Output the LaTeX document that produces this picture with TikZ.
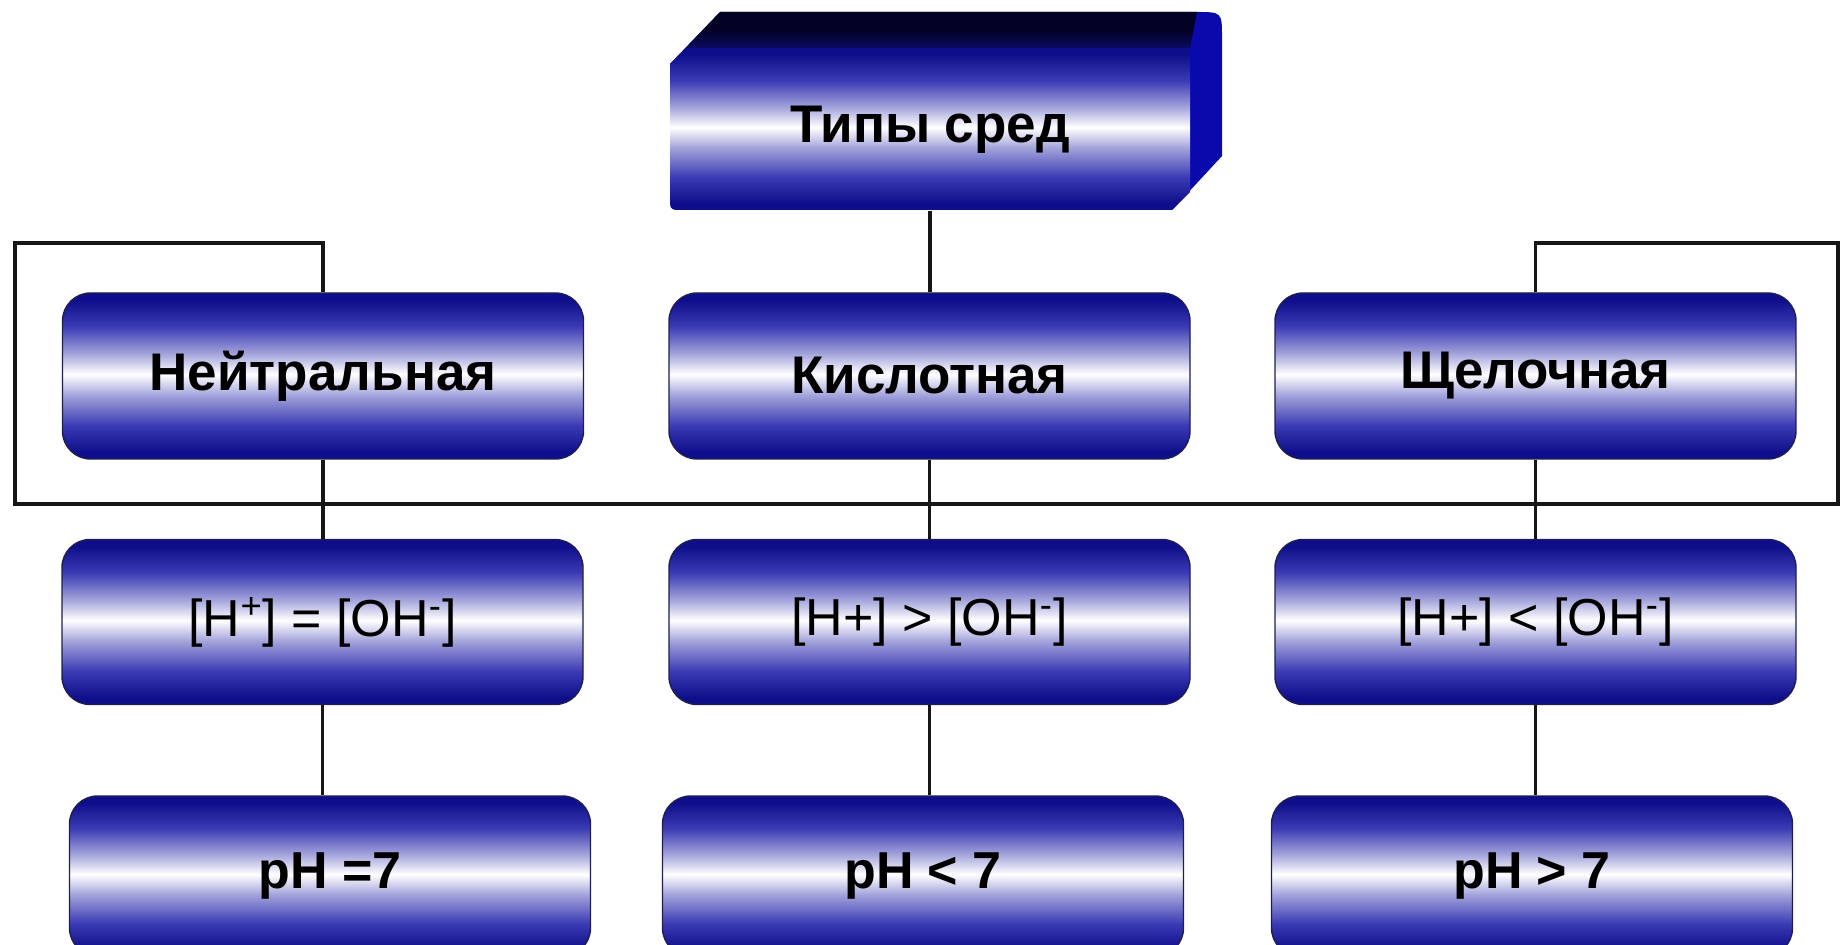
\documentclass[tikz,border=0pt]{standalone}
\usepackage{fontspec}
\setmainfont{Liberation Sans}

% palette
\definecolor{boxdark}{RGB}{14,14,138}
\definecolor{boxmid}{RGB}{58,58,180}
\definecolor{boxlight}{RGB}{160,160,218}
\definecolor{sideblue}{RGB}{10,10,172}
\definecolor{topdark}{RGB}{2,2,36}
\definecolor{topmid}{RGB}{10,10,92}
\definecolor{topblue}{RGB}{24,24,152}
\definecolor{edge}{RGB}{30,30,80}
\definecolor{wire}{RGB}{22,22,22}

% glossy vertical fill: dark rims, white band near the middle
\pgfdeclareverticalshading{boxshade}{100bp}{%
  color(0bp)=(boxdark); color(25bp)=(boxdark); color(27bp)=(boxdark);
  color(35bp)=(boxmid); color(44bp)=(boxlight); color(50.5bp)=(white);
  color(57bp)=(boxlight); color(65bp)=(boxmid); color(73bp)=(boxdark);
  color(75bp)=(boxdark); color(100bp)=(boxdark)}
% top face of the raised header: near black, turning blue towards the front
\pgfdeclareverticalshading{lidshade}{100bp}{%
  color(0bp)=(topblue); color(25bp)=(topblue); color(42bp)=(topmid);
  color(58bp)=(topdark); color(100bp)=(topdark)}

\tikzset{
  box/.style={shade, shading=boxshade, draw=edge, line width=0.7pt,
    rounded corners=14pt, minimum width=260.5pt, minimum height=83pt,
    inner sep=0pt, text=black, font=\fontsize{26.5}{30}\selectfont\bfseries},
  relbox/.style={box, minimum height=82.5pt, font=\fontsize{26}{28}\selectfont},
  phbox/.style={box, minimum height=80pt, font=\fontsize{26}{28}\selectfont\bfseries},
  link/.style={draw=wire, line width=1.7pt},
}

\begin{document}
\begin{tikzpicture}[x=0.5pt,y=-0.5pt]
\useasboundingbox (0,0) rectangle (1841,945);
\clip (0,0) rectangle (1841,945);

% raised header block: body, top face, front face
\fill[sideblue] (670,64) -- (720,12) -- (1196,12) .. controls (1222,12) .. (1222,38)
  -- (1222,156) -- (1172,210) -- (684,210) .. controls (670,210) .. (670,196) -- cycle;
\shade[shading=lidshade] (670,64) -- (720,12) -- (1197,12)
  -- (1190,48) -- (686,48) -- cycle;
\shade[shading=boxshade] (670,64) -- (686,48) -- (1190,48) -- (1190,192) -- (1172,210)
  -- (684,210) .. controls (670,210) .. (670,196) -- cycle;
\node[minimum width=260pt, minimum height=81pt, inner sep=0pt,
  font=\fontsize{26.5}{30}\selectfont\bfseries] (top) at (930,130) {Типы сред};

% second row: kinds of media
\node[box] (neut) at (323,376) {Нейтральная};
\node[box] (acid) at (929.5,376) {Кислотная};
\node[box] (alk)  at (1535.5,376) {Щелочная};

% third row: ion concentrations
\node[relbox] (hn) at (322.5,622) {[H\textsuperscript{+}] = [OH\textsuperscript{-}]};
\node[relbox] (ha) at (929.5,622) {[H+] > [OH\textsuperscript{-}]};
\node[relbox] (hb) at (1535.5,622) {[H+] < [OH\textsuperscript{-}]};

% fourth row: pH values
\node[phbox] (pn) at (330,876) {pH =7};
\node[phbox] (pa) at (923,876) {pH < 7};
\node[phbox] (pb) at (1532,876) {pH > 7};

% frame lines
\coordinate (lt) at (15,243);
\coordinate (lb) at (15,504);
\coordinate (rb) at (1838,504);
\coordinate (rt) at (1838,243);

\draw[link] (top.south) -- (top.south |- acid.north);
\draw[link] (neut.north) |- (lt) -- (lb) -- (rb) -- (rt) -| (alk.north);
\draw[link] (neut.south) -- (neut.south |- hn.north);
\draw[link] (acid.south) -- (acid.south |- ha.north);
\draw[link] (alk.south) -- (alk.south |- hb.north);
\draw[link] (hn.south) -- (hn.south |- pn.north);
\draw[link] (ha.south) -- (ha.south |- pa.north);
\draw[link] (hb.south) -- (hb.south |- pb.north);
\end{tikzpicture}
\end{document}
